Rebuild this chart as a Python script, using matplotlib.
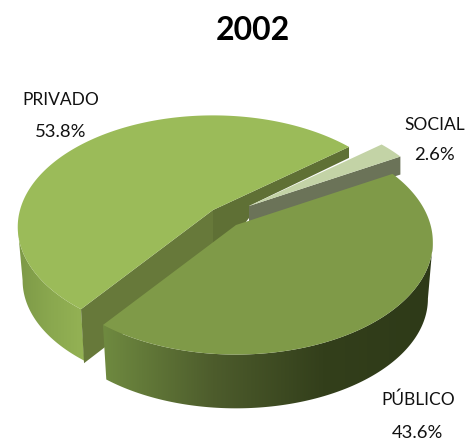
import numpy as np
import matplotlib
matplotlib.use("Agg")
import matplotlib.pyplot as plt
from matplotlib.patches import Polygon
from matplotlib.colors import LinearSegmentedColormap

title = "2002"
categories = ["PRIVADO", "PÚBLICO", "SOCIAL"]
values = [53.8, 43.6, 2.6]
value_labels = ["53.8%", "43.6%", "2.6%"]

# projection style
A, B, K = 193.0, 109.0, 0.152
START = 39.4
DEPTH = 55.0
BOTTOM_SCALE = 0.975


def rim(apex, t0, t1, scale=1.0, dy=0.0, n=160):
    t = np.radians(np.linspace(t0, t1, n))
    w = 1 + K * np.sin(t)
    return np.column_stack([apex[0] + scale * A * np.cos(t) / w,
                            apex[1] + dy - scale * B * np.sin(t) / w])


def gradient_side(ax, apex, t0, t1, colors, xr, dy, z, scale=1.0):
    top = rim(apex, t0, t1, scale)
    bot = rim(apex, t0, t1, BOTTOM_SCALE * scale, dy)
    poly = Polygon(np.vstack([top, bot[::-1]]), closed=True, fc="none", ec="none",
                   transform=ax.transData, zorder=z)
    ax.add_patch(poly)
    cmap = LinearSegmentedColormap.from_list("g", colors)
    im = ax.imshow(np.linspace(0, 1, 256)[None, :], cmap=cmap, aspect="auto",
                   extent=(xr[0], xr[1], 442, 0), zorder=z, interpolation="bilinear")
    im.set_clip_path(poly)


fig = plt.figure(figsize=(4.7, 4.42), dpi=100, facecolor="white")
ax = fig.add_axes([0, 0, 1, 1])

# slice angles come from the values (counter-clockwise from START)
spans = [v / sum(values) * 360 for v in values]
t_priv = (START, START + spans[0])
t_pub = (t_priv[1], t_priv[1] + spans[1])
t_soc = (t_pub[1], t_pub[1] + spans[2])

ap_priv = (213, 210)
ap_pub = (236, 225)
ap_soc = (249, 206)
SOC_SCALE = 0.975
PUB_SCALE = 1.008

# Privado side and cut faces
gradient_side(ax, ap_priv, 188.7, t_priv[1],
              ["#7d9947", "#8aa84f", "#94b254"], (18, 84), DEPTH - 1, 1)
p_low = rim(ap_priv, t_priv[1], t_priv[1], n=1)[0]
ax.add_patch(Polygon([ap_priv, p_low, (p_low[0] + 3, p_low[1] + 54),
                      (ap_priv[0], ap_priv[1] + 54)], fc="#67793a", ec="none", zorder=2))
p_up = rim(ap_priv, t_priv[0], t_priv[0], n=1)[0]
ax.add_patch(Polygon([ap_priv, p_up, (p_up[0], p_up[1] + 11), ap_soc,
                      (ap_soc[0], ap_soc[1] + 12), (ap_priv[0], ap_priv[1] + 54)],
                     fc="#5f7035", ec="none", zorder=2.5))
ax.add_patch(Polygon(np.vstack([ap_priv, rim(ap_priv, *t_priv)]), fc="#9bbb59",
                     ec="none", zorder=3))

# Social
s0 = rim(ap_soc, t_soc[0], t_soc[0], SOC_SCALE, n=1)[0]
s1 = rim(ap_soc, t_soc[1], t_soc[1], SOC_SCALE, n=1)[0]
ax.add_patch(Polygon([ap_soc, s0, (s0[0], s0[1] + 18), (ap_soc[0], ap_soc[1] + 18)],
                     fc="#6b7358", ec="none", zorder=4))
ax.add_patch(Polygon(np.vstack([ap_soc, rim(ap_soc, *t_soc, SOC_SCALE)]), fc="#c3d3a6",
                     ec="none", zorder=5))

# Público
gradient_side(ax, ap_pub, t_pub[0], 351.3,
              ["#6f8a40", "#4d5c2c", "#333f1b", "#2e3a18"], (103, 433), DEPTH + 2, 6,
              PUB_SCALE)
ax.add_patch(Polygon(np.vstack([ap_pub, rim(ap_pub, *t_pub, PUB_SCALE)]), fc="#7f9a48",
                     ec="none", zorder=7))

ax.text(253, 30, title, ha="center", va="center", fontsize=23, fontweight="bold",
        family="Lato", color="black", zorder=10)
label_pos = [(61, 100), (418, 400), (435, 125)]
value_gap = [32, 33, 30]
for name, val, (x, y), gap in zip(categories, value_labels, label_pos, value_gap):
    ax.text(x, y, name, ha="center", va="center", fontsize=12.5, family="Lato",
            color="#111111", zorder=10)
    ax.text(x, y + gap, val, ha="center", va="center", fontsize=13.3, family="Lato",
            color="#111111", zorder=10)

ax.set_xlim(0, 470)
ax.set_ylim(442, 0)
ax.axis("off")
fig.savefig("out.png", dpi=100, facecolor="white")
